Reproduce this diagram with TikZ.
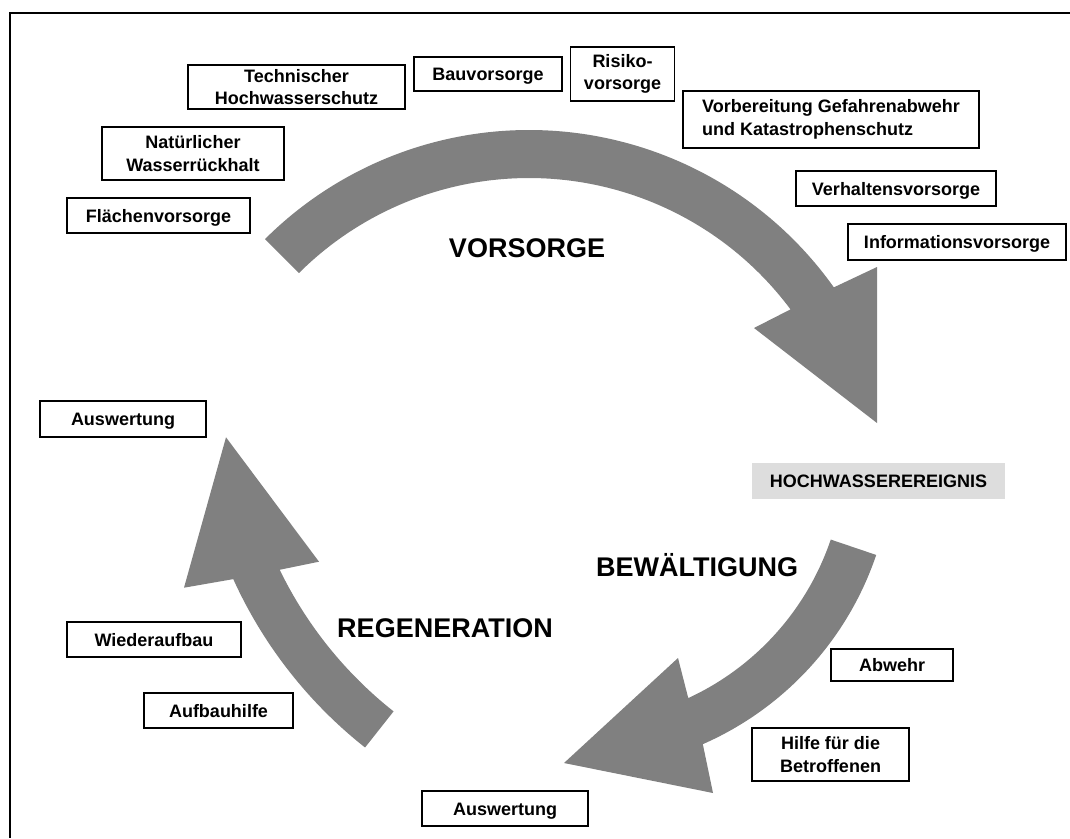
\documentclass[tikz,border=0pt]{standalone}
\usepackage{fontspec}
\setmainfont{Liberation Sans}
\usetikzlibrary{calc}
\definecolor{arrowgray}{RGB}{128,128,128}
\definecolor{eventgray}{RGB}{221,221,221}
\tikzset{
  box/.style={draw=black, line width=1.2pt, fill=white, inner sep=0pt,
    align=center, font=\bfseries\fontsize{18}{22.5}\selectfont},
  oneline/.style={text height=13pt, text depth=0pt},
  eventbox/.style={fill=eventgray, inner sep=0pt, align=center,
    text height=13pt, text depth=0pt,
    font=\bfseries\fontsize{18}{22.5}\selectfont},
  phase/.style={anchor=base, inner sep=0pt, font=\bfseries\fontsize{27}{32}\selectfont},
  bigarrow/.style={fill=arrowgray}
}
\begin{document}
\begin{tikzpicture}[x=1pt,y=1pt]
\useasboundingbox (0,0) rectangle (1070,-838);
\fill[white] (0,0) rectangle (1070,-838);
% frame
\draw[line width=2pt] (1070,-13) -- (10,-13) -- (10,-838);

% arc centres
\coordinate (V) at (529,-504);
\coordinate (B) at (575,-453);
\coordinate (R) at (645.8,-392);

% VORSORGE arrow
\fill[bigarrow] ($(V)+(134.9:374)$) arc[start angle=134.9, end angle=35.4, radius=374]
  -- (877,-267) -- (877,-423) -- (754,-328)
  -- ($(V)+(36.66:326)$) arc[start angle=36.66, end angle=134.9, radius=326] -- cycle;

% BEWAELTIGUNG arrow
\fill[bigarrow] ($(B)+(-18.7:270)$) arc[start angle=-18.7, end angle=-65.2, radius=270]
  -- (678,-658) -- (564,-763) -- (713,-793)
  -- ($(B)+(-66.3:318)$) arc[start angle=-66.3, end angle=-18.7, radius=318] -- cycle;

% REGENERATION arrow
\fill[bigarrow] ($(R)+(231.7:407)$) arc[start angle=231.7, end angle=205.9, radius=407]
  -- (319,-561.7) -- (226,-437.3) -- (184,-587.7)
  -- ($(R)+(204.4:453)$) arc[start angle=204.4, end angle=231.7, radius=453] -- cycle;

% boxes
\node[box, minimum width=217pt, minimum height=44pt] (techn) at (296.5,-87) {Technischer\\Hochwasserschutz};
\node[box, oneline, minimum width=148pt, minimum height=34pt] (bau) at (488,-74) {Bauvorsorge};
\node[box, minimum width=104pt, minimum height=54pt] (risiko) at (622.5,-74) {Risiko-\\vorsorge};
\node[box, minimum width=296pt, minimum height=57pt, align=left] (vorb) at (831,-119.5) {Vorbereitung Gefahrenabwehr\\und Katastrophenschutz};
\node[box, oneline, minimum width=200pt, minimum height=35pt] (verh) at (896,-188.5) {Verhaltensvorsorge};
\node[box, oneline, minimum width=218pt, minimum height=36pt] (info) at (957,-242) {Informationsvorsorge};
\node[box, minimum width=182pt, minimum height=53pt] (natur) at (193,-153.5) {Natürlicher\\Wasserrückhalt};
\node[box, oneline, minimum width=183pt, minimum height=35pt] (flaeche) at (158.5,-215.5) {Flächenvorsorge};
\node[box, oneline, minimum width=166pt, minimum height=36pt] (ausw1) at (123,-419) {Auswertung};
\node[eventbox, minimum width=253pt, minimum height=36pt] (event) at (878.5,-481) {HOCHWASSEREREIGNIS};
\node[box, oneline, minimum width=122pt, minimum height=32pt] (abwehr) at (892,-665) {Abwehr};
\node[box, minimum width=157pt, minimum height=53pt] (hilfe) at (830.5,-754.5) {Hilfe für die\\Betroffenen};
\node[box, oneline, minimum width=166pt, minimum height=35pt] (ausw2) at (505,-808.5) {Auswertung};
\node[box, oneline, minimum width=174pt, minimum height=35pt] (wieder) at (154,-639.5) {Wiederaufbau};
\node[box, oneline, minimum width=149pt, minimum height=35pt] (aufbau) at (218.5,-710.5) {Aufbauhilfe};

% phase labels
\node[phase] (vors) at (527,-257) {VORSORGE};
\node[phase] (bew) at (697,-576) {BEWÄLTIGUNG};
\node[phase] (regen) at (445,-637) {REGENERATION};
\end{tikzpicture}
\end{document}
